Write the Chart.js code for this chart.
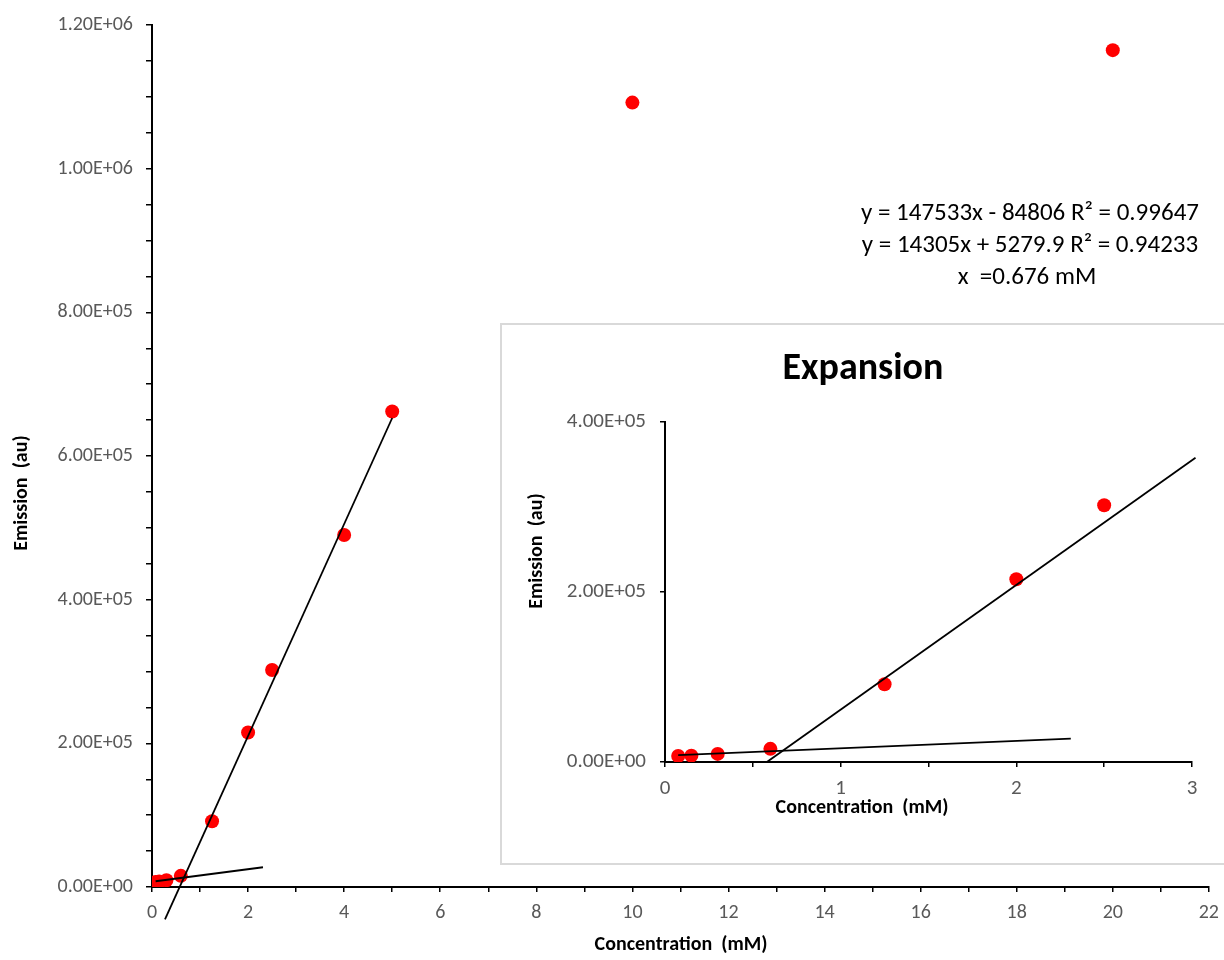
<!DOCTYPE html>
<html>
<head>
<meta charset="utf-8">
<script src="https://cdn.jsdelivr.net/npm/chart.js@4.4.1/dist/chart.umd.min.js"></script>
<style>
  html, body { margin: 0; padding: 0; background: #fff; overflow: hidden; }
  #mainChart { position: absolute; left: 0; top: 0; }
  #insetBox {
    position: absolute; left: 500px; top: 323px; width: 740px; height: 542px;
    box-sizing: border-box; border: 2px solid #d9d9d9; background: #fff;
  }
  #insetChart { display: block; }
</style>
</head>
<body>
<canvas id="mainChart" width="1228" height="960"></canvas>
<div id="insetBox"><canvas id="insetChart" width="736" height="538"></canvas></div>
<script>
// ── Data ──
const concentration = [0.075, 0.15, 0.3, 0.6, 1.25, 2, 2.5, 4, 5, 10, 20];   // mM
const emission = [7000, 7500, 9500, 15500, 91500, 215000, 302000, 490000, 662000, 1092000, 1165000];
const insetCount = 7;   // points shown in the expansion

// trendline end points as drawn
const steepFitX = [0.27, 5.0];
const steepFitY = [-45000, 652900];
const flatFitX = [0.075, 2.31];
const flatFitY = [8000, 27500];
const insetSteepX = [0.58, 3.02];
const insetSteepY = [0, 358000];

const fitLabels = [
    'y = 147533x - 84806 R\u00B2 = 0.99647',
    'y = 14305x + 5279.9 R\u00B2 = 0.94233',
    'x  =0.676 mM'
];

const FONT = 'Carlito, Lato, sans-serif';
Chart.defaults.font.family = FONT;
Chart.defaults.color = '#595959';

function sci(v) {
    const [m, e] = Number(v).toExponential(2).split('e');
    return m + 'E' + e[0] + e.slice(1).padStart(2, '0');
}
const pts = (xs, ys) => xs.map((x, i) => ({ x, y: ys[i] }));

// ── Free text plugin (equations, axis titles) ──
const textPlugin = {
    id: 'texts',
    afterDraw(chart, args, opts) {
        const ctx = chart.ctx;
        (opts.items || []).forEach(t => {
            ctx.save();
            ctx.font = t.font;
            ctx.fillStyle = t.color || '#000';
            ctx.textAlign = 'center';
            ctx.textBaseline = 'middle';
            ctx.translate(t.x, t.y);
            if (t.rotate) ctx.rotate(t.rotate);
            ctx.fillText(t.text, 0, 0);
            ctx.restore();
        });
    }
};

function axis(min, max, step, isLabel, tickLen, pad, fontSize, fit) {
    return {
        type: 'linear', min, max,
        ticks: {
            stepSize: step, autoSkip: false, maxRotation: 0, padding: pad,
            color: '#595959', font: { size: fontSize },
            callback: v => isLabel(v) ? fit.fmt(v) : ''
        },
        grid: { drawOnChartArea: false, drawTicks: true, tickLength: tickLen, color: '#000', tickColor: '#000', lineWidth: 1.5 },
        border: { color: '#000', width: 2 },
        afterFit: s => { if (fit.w) s.width = fit.w; if (fit.h) s.height = fit.h; }
    };
}

const lineStyle = { showLine: true, pointRadius: 0, borderColor: '#000', borderWidth: 1.8, clip: false, order: 0 };
const dotStyle = { pointRadius: 7, pointHoverRadius: 7, pointBackgroundColor: '#ff0000', pointBorderWidth: 0, showLine: false, order: 1 };

// ── Main chart ──
new Chart(document.getElementById('mainChart'), {
    type: 'scatter',
    data: {
        datasets: [
            { data: pts(concentration, emission), ...dotStyle },
            { data: pts(steepFitX, steepFitY), ...lineStyle },
            { data: pts(flatFitX, flatFitY), ...lineStyle }
        ]
    },
    options: {
        responsive: false, animation: false, devicePixelRatio: 1,
        layout: { padding: { left: 0, right: 10, top: 24, bottom: 0 } },
        plugins: {
            legend: { display: false }, tooltip: { enabled: false },
            texts: { items: [
                { text: fitLabels[0], x: 1030, y: 214, font: '25px ' + FONT },
                { text: fitLabels[1], x: 1030, y: 246, font: '25px ' + FONT },
                { text: fitLabels[2], x: 1027, y: 278, font: '25px ' + FONT },
                { text: 'Concentration  (mM)', x: 681, y: 945, font: 'bold 20px ' + FONT },
                { text: 'Emission  (au)', x: 22, y: 493, font: 'bold 20px ' + FONT, rotate: -Math.PI / 2 }
            ] }
        },
        scales: {
            x: axis(0, 22, 1, v => v % 2 === 0, 5, 9, 20, { h: 73, fmt: v => String(v) }),
            y: axis(0, 1200000, 50000, v => v % 200000 === 0, 6, 13, 20, { w: 152, fmt: sci })
        }
    },
    plugins: [textPlugin]
});

// ── Expansion inset ──
new Chart(document.getElementById('insetChart'), {
    type: 'scatter',
    data: {
        datasets: [
            { data: pts(concentration.slice(0, insetCount), emission.slice(0, insetCount)), ...dotStyle },
            { data: pts(insetSteepX, insetSteepY), ...lineStyle },
            { data: pts(flatFitX, flatFitY), ...lineStyle }
        ]
    },
    options: {
        responsive: false, animation: false, devicePixelRatio: 1,
        layout: { padding: { left: 0, right: 46, top: 97, bottom: 0 } },
        plugins: {
            legend: { display: false }, tooltip: { enabled: false },
            texts: { items: [
                { text: 'Expansion', x: 361, y: 44, font: 'bold 38px ' + FONT },
                { text: 'Concentration  (mM)', x: 360, y: 483, font: 'bold 20px ' + FONT },
                { text: 'Emission  (au)', x: 35, y: 226, font: 'bold 20px ' + FONT, rotate: -Math.PI / 2 }
            ] }
        },
        scales: {
            x: axis(0, 3, 0.5, v => Number.isInteger(v), 5, 9, 21, { h: 101, fmt: v => String(v) }),
            y: axis(0, 400000, 200000, () => true, 5, 14, 21, { w: 163, fmt: sci })
        }
    },
    plugins: [textPlugin]
});
</script>
</body>
</html>
